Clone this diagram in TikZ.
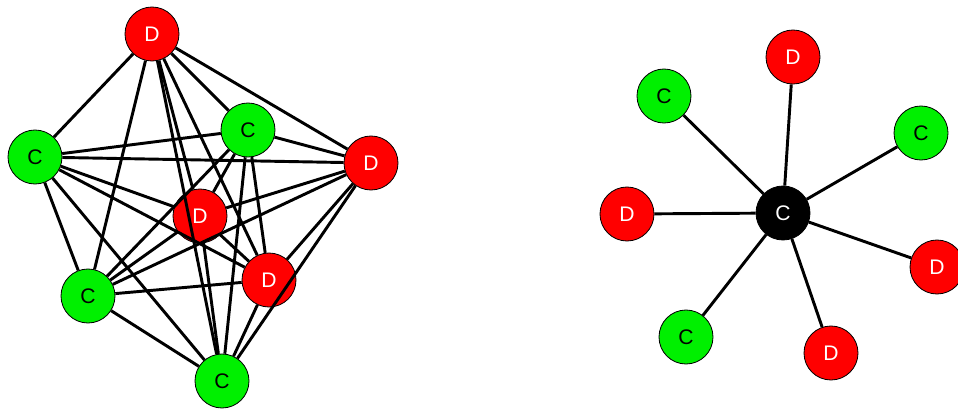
\documentclass[tikz,border=0pt]{standalone}
\usepackage{fontspec}
\setmainfont{Liberation Sans}
\usepackage{tikz}

\definecolor{coop}{RGB}{0,240,0}
\definecolor{defect}{RGB}{255,0,0}

\tikzset{
  player/.style={circle, draw=black, line width=0.7pt, minimum size=1.62cm, inner sep=0pt, font=\fontsize{18}{18}\selectfont},
  cnode/.style={player, fill=coop, text=black},
  dnode/.style={player, fill=defect, text=white},
  hub/.style={player, fill=black, text=white},
  tie/.style={line width=2.5pt, black}
}

\begin{document}
\begin{tikzpicture}[x=0.03cm, y=-0.03cm]
    \clip (0,0) rectangle (958,408);
    \useasboundingbox (0,0) rectangle (958,408);
    % well-mixed population
    \node[dnode] (a1) at (152,34) {D};
    \node[cnode] (a2) at (35,157) {C};
    \node[cnode] (a3) at (248,130) {C};
    \node[dnode] (a4) at (371,163) {D};
    \node[dnode] (a5) at (200,216) {D};
    \node[dnode] (a6) at (269,280) {D};
    \node[cnode] (a7) at (88,296) {C};
    \node[cnode] (a8) at (222,381) {C};
    \foreach \i in {1,...,7} {
        \pgfmathtruncatemacro\k{\i+1}
        \foreach \j in {\k,...,8}
            \draw[tie] (a\i) -- (a\j);
    }
    % star
    \node[hub] (s0) at (783,213) {C};
    \node[dnode] (s1) at (793,57) {D};
    \node[cnode] (s2) at (921,133) {C};
    \node[dnode] (s3) at (937,267) {D};
    \node[dnode] (s4) at (831,353) {D};
    \node[cnode] (s5) at (686,337) {C};
    \node[dnode] (s6) at (627,214) {D};
    \node[cnode] (s7) at (664,96) {C};
    \foreach \j in {1,...,7}
        \draw[tie] (s0) -- (s\j);
\end{tikzpicture}
\end{document}
